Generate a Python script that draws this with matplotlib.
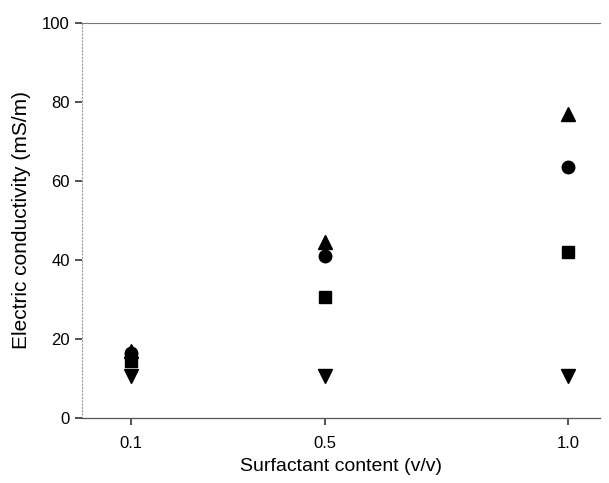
import matplotlib
matplotlib.use("Agg")
import matplotlib.pyplot as plt

plt.rcParams['font.family'] = ['Liberation Sans', 'DejaVu Sans']

content = [0.1, 0.5, 1.0]
series_up = [17, 44.5, 77]       # triangle up
series_circle = [16.5, 41, 63.5]
series_square = [14.5, 30.5, 42]
series_down = [10.5, 10.5, 10.5]  # triangle down
tick_labels = ["0.1", "0.5", "1.0"]

fig = plt.figure(figsize=(6.09, 4.83), dpi=100)
ax = fig.add_axes([0.135, 0.135, 0.85, 0.817])

ax.plot(content, series_up, linestyle="none", marker="^", color="black", markersize=10)
ax.plot(content, series_circle, linestyle="none", marker="o", color="black", markersize=9)
ax.plot(content, series_square, linestyle="none", marker="s", color="black", markersize=8)
ax.plot(content, series_down, linestyle="none", marker="v", color="black", markersize=10)

ax.set_xlim(0, 1.066)
ax.set_ylim(0, 100)
ax.set_xticks(content)
ax.set_xticklabels(tick_labels)
ax.set_yticks([0, 20, 40, 60, 80, 100])

ax.spines["right"].set_visible(False)
ax.spines["top"].set_color("#777777")
ax.spines["top"].set_linewidth(0.8)
ax.spines["bottom"].set_color("#555555")
ax.spines["bottom"].set_linewidth(0.9)
ax.spines["left"].set_color("#999999")
ax.spines["left"].set_linestyle((0, (1, 2)))
ax.spines["left"].set_linewidth(0.8)

ax.tick_params(axis="both", labelsize=12, length=5, width=1.2, color="#333333")
ax.tick_params(axis="x", pad=8)
ax.tick_params(axis="y", pad=4)
ax.set_xlabel("Surfactant content (v/v)", fontsize=14, labelpad=5)
ax.set_ylabel("Electric conductivity (mS/m)", fontsize=15, labelpad=8)

plt.savefig("out.png", dpi=100)
